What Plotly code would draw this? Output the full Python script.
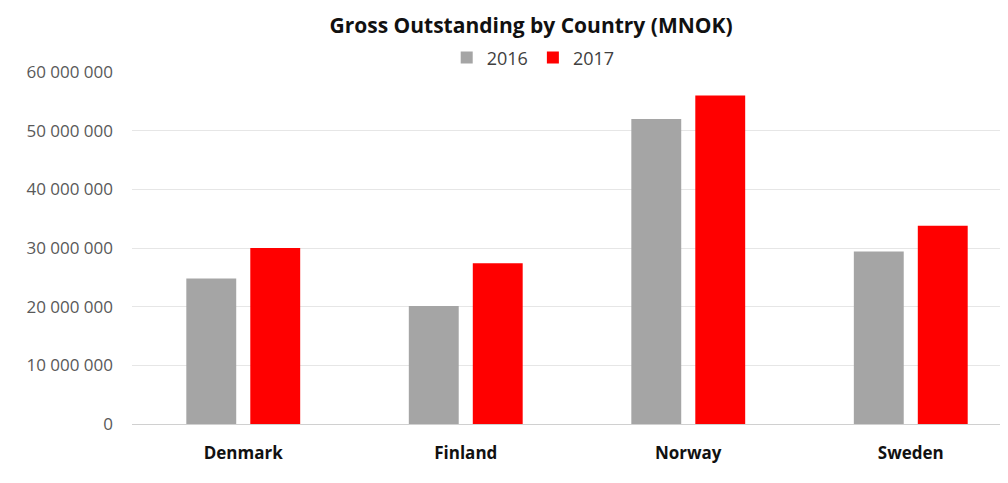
import plotly.graph_objects as go

countries = ["Denmark", "Finland", "Norway", "Sweden"]
values_2016 = [24800000, 20100000, 52000000, 29400000]
values_2017 = [30000000, 27400000, 56000000, 33800000]
y_tick_vals = [0, 10000000, 20000000, 30000000, 40000000, 50000000, 60000000]
y_tick_text = ["0", "10 000 000", "20 000 000", "30 000 000", "40 000 000", "50 000 000", "60 000 000"]

fig = go.Figure()
fig.add_trace(go.Bar(name="2016", x=countries, y=values_2016, marker_color="#a5a5a5", marker_line_width=0))
fig.add_trace(go.Bar(name="2017", x=countries, y=values_2017, marker_color="#ff0000", marker_line_width=0))

fig.update_layout(
    width=1000, height=475,
    paper_bgcolor="white", plot_bgcolor="white",
    margin=dict(l=124, r=0, t=64, b=59, autoexpand=False),
    barmode="group", bargap=0.425, bargroupgap=0.22,
    title=dict(text="<b>Gross Outstanding by Country (MNOK)</b>", x=0.523, xanchor="center",
               y=0.962, yanchor="middle",
               font=dict(family="Open Sans", size=21, color="#111111")),
    legend=dict(orientation="h", x=0.458, xanchor="center",
                y=1.04, yanchor="middle",
                font=dict(family="Open Sans", size=18, color="#404040"),
                itemwidth=30, traceorder="normal"),
    font=dict(family="Open Sans"),
)
fig.update_xaxes(range=[-0.5, 3.437], showgrid=False, showline=False, ticks="",
                 tickfont=dict(family="Open Sans", size=17, color="#111111"),
                 tickprefix="<b>", ticksuffix="</b>", ticklabelstandoff=17)
fig.update_yaxes(range=[0, 60000000], tickvals=y_tick_vals, ticktext=y_tick_text,
                 showgrid=True, gridcolor="#e6e6e6", gridwidth=1,
                 zeroline=True, zerolinecolor="#d0d0d0", zerolinewidth=1,
                 tickfont=dict(family="Open Sans", size=17, color="#595959"),
                 ticklabelstandoff=18)

fig.write_html("out.html")
